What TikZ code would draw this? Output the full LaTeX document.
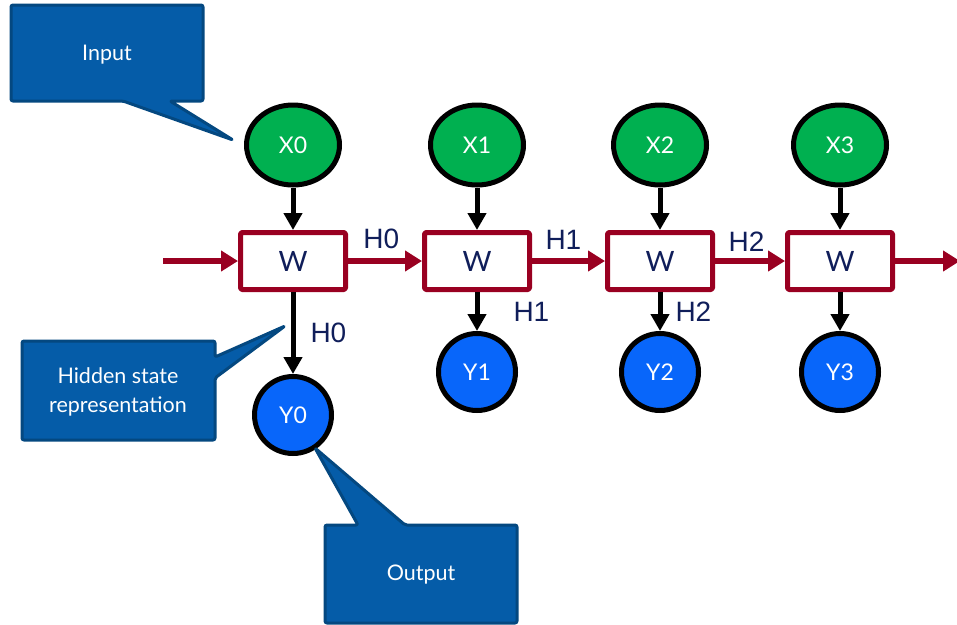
\documentclass[tikz,border=0pt]{standalone}
\usepackage{fontspec}
\setmainfont{Lato}
\newfontfamily\labfont{Liberation Sans}
\usetikzlibrary{arrows.meta,shapes.geometric}
\definecolor{xgreen}{RGB}{0,176,80}
\definecolor{yblue}{RGB}{8,102,250}
\definecolor{wred}{RGB}{153,0,33}
\definecolor{navy}{RGB}{16,30,90}
\definecolor{callfill}{RGB}{5,92,168}
\definecolor{calldraw}{RGB}{4,72,128}
\begin{document}
\begin{tikzpicture}[x=1pt,y=-1pt,line join=round,
	xnode/.style={ellipse,draw=black,line width=5pt,fill=xgreen,minimum width=93pt,minimum height=80pt,text=white,font=\fontsize{23}{27}\selectfont},
	ynode/.style={circle,draw=black,line width=5pt,fill=yblue,minimum size=77pt,text=white,font=\fontsize{23}{27}\selectfont},
	wbox/.style={rectangle,draw=wred,line width=5pt,rounded corners=1.5pt,fill=white,minimum width=105pt,minimum height=57pt,text=navy,font=\fontsize{28}{32}\selectfont},
	hlab/.style={text=navy,font=\labfont\fontsize{28}{32}\selectfont,inner sep=0pt},
	flow/.style={wred,line width=6pt,-{Triangle[length=17pt,width=20pt]}},
	feed/.style={black,line width=5pt,-{Triangle[length=17pt,width=18pt]}},
	callout/.style={fill=callfill,draw=calldraw,line width=3pt,rounded corners=2pt},
	calltext/.style={text=white,font=\fontsize{21.5}{29}\selectfont,align=center}]
	\useasboundingbox (0,0) rectangle (957,624);
	\foreach \i/\cx/\cy in {0/293/415,1/477/372,2/660/372,3/840/372} {
		\node[wbox] (w\i) at (\cx,261) {W};
		\node[xnode] (x\i) at (\cx,145) {X\i};
		\node[ynode] (y\i) at (\cx,\cy) {Y\i};
		\draw[feed] (x\i) -- (w\i);
	}
	\coordinate (hin) at (163,261);
	\coordinate (hout) at (960,261);
	\draw[flow] (hin) -- (w0.west);
	\draw[flow] (w0) -- node[hlab,above=9pt,pos=0.45] (h01) {H0} (w1);
	\draw[flow] (w1) -- node[hlab,above=9pt,pos=0.43] (h12) {H1} (w2);
	\draw[flow] (w2) -- node[hlab,above=7pt,pos=0.45] (h23) {H2} (w3);
	\draw[flow] (w3.east) -- (hout);
	\draw[feed] (w0) -- node[hlab,right=15pt] (h0) {H0} (y0);
	\draw[feed] (w1) -- node[hlab,right=34pt] (h1) {H1} (y1);
	\draw[feed] (w2) -- node[hlab,right=13pt] (h2) {H2} (y2);
	\draw[feed] (w3) -- (y3);
	% speech bubbles
	\draw[callout] (11,5) -- (203,5) -- (203,101) -- (170,101) -- (233,140) -- (123,101) -- (11,101) -- cycle;
	\node[calltext] (input) at (107,55) {Input};
	\draw[callout] (22,341) -- (215,341) -- (215,357) -- (285,326) -- (215,378) -- (215,440) -- (22,440) -- cycle;
	\node[calltext] (hidden) at (118,392) {Hidden state\\representation};
	\draw[callout] (325,525) -- (358,525) -- (315,448) -- (405,525) -- (517,525) -- (517,623) -- (325,623) -- cycle;
	\node[calltext] (output) at (421,575) {Output};
\end{tikzpicture}
\end{document}
